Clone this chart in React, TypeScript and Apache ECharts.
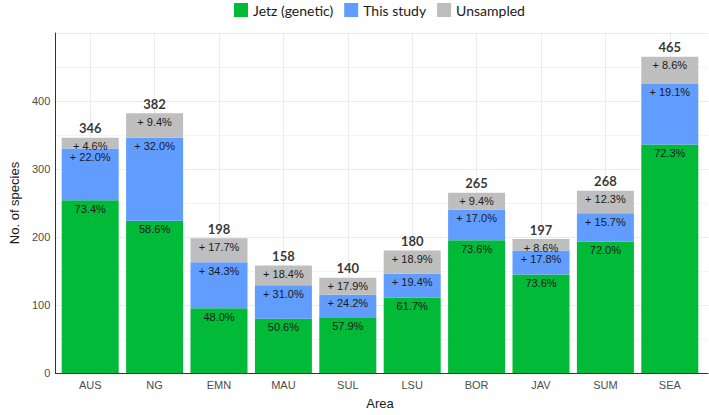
import React, { useEffect, useRef } from "react";
import * as echarts from "echarts";

// Species counts per area, split into Jetz (genetic), this study and unsampled shares
const categories = ["AUS", "NG", "EMN", "MAU", "SUL", "LSU", "BOR", "JAV", "SUM", "SEA"];
const totals = [346, 382, 198, 158, 140, 180, 265, 197, 268, 465];
const pctJetz = [73.4, 58.6, 48.0, 50.6, 57.9, 61.7, 73.6, 73.6, 72.0, 72.3];
const pctStudy = [22.0, 32.0, 34.3, 31.0, 24.2, 19.4, 17.0, 17.8, 15.7, 19.1];
const pctUnsampled = [4.6, 9.4, 17.7, 18.4, 17.9, 18.9, 9.4, 8.6, 12.3, 8.6];
const yTicks = [0, 100, 200, 300, 400];

const GREEN = "#00BA38";
const BLUE = "#619CFF";
const GREY = "#BEBEBE";
const SANS = "'Liberation Sans', Arial, sans-serif";
const LEGEND_FONT = "Lato, 'Open Sans', sans-serif";

const countsFrom = (pcts: number[]) => pcts.map((p, i) => (totals[i] * p) / 100);

export default function App() {
  const ref = useRef<HTMLDivElement>(null);

  useEffect(() => {
    if (!ref.current) return;
    document.body.style.margin = "0";
    const chart = echarts.init(ref.current, null, { renderer: "svg" });

    const segLabel = (pcts: number[], plus: boolean) => ({
      show: true,
      position: "insideTop" as const,
      distance: 3,
      fontFamily: SANS,
      fontSize: 11,
      color: "#1a1a1a",
      formatter: (p: any) => (plus ? "+ " : "") + pcts[p.dataIndex].toFixed(1) + "%",
    });

    const barBase = {
      type: "bar",
      stack: "total",
      xAxisIndex: 1,
      yAxisIndex: 1,
      barWidth: 57,
      z: 3,
    };

    chart.setOption({
      animation: false,
      backgroundColor: "#ffffff",
      legend: {
        top: 3,
        left: 234,
        padding: 0,
        itemWidth: 14,
        itemHeight: 14,
        itemGap: 11,
        icon: "rect",
        data: ["Jetz (genetic)", "This study", "Unsampled"],
        textStyle: { fontFamily: LEGEND_FONT, fontSize: 14, color: "#1a1a1a" },
      },
      grid: [
        { left: 52, right: 1, top: 33, bottom: 42 },
        { left: 58, right: 7, top: 33, bottom: 42 },
      ],
      xAxis: [
        {
          gridIndex: 0,
          type: "value",
          min: 0,
          max: 1,
          axisLine: { show: true, lineStyle: { color: "#333", width: 1 } },
          axisTick: { show: false },
          axisLabel: { show: false },
          splitLine: { show: false },
        },
        {
          gridIndex: 1,
          type: "category",
          data: categories,
          name: "Area",
          nameLocation: "middle",
          nameGap: 24,
          nameTextStyle: { fontFamily: SANS, fontSize: 13, color: "#1a1a1a" },
          axisLine: { show: false },
          axisTick: { show: false },
          axisLabel: { fontFamily: SANS, fontSize: 11, color: "#4d4d4d", margin: 6 },
          splitLine: { show: false },
        },
      ],
      yAxis: [
        {
          gridIndex: 0,
          type: "value",
          min: 0,
          max: 500,
          interval: 100,
          name: "No. of species",
          nameLocation: "middle",
          nameGap: 26,
          nameTextStyle: { fontFamily: SANS, fontSize: 13, color: "#1a1a1a" },
          axisLine: { show: true, lineStyle: { color: "#333", width: 1 } },
          axisTick: { show: false },
          axisLabel: {
            fontFamily: SANS,
            fontSize: 11,
            color: "#4d4d4d",
            margin: 5,
            formatter: (v: number) => (yTicks.includes(v) ? String(v) : ""),
          },
          splitLine: { show: true, lineStyle: { color: "#EBEBEB", width: 1 } },
          minorTick: { show: false, splitNumber: 2 },
          minorSplitLine: { show: true, lineStyle: { color: "#F4F4F4", width: 1 } },
        },
        {
          gridIndex: 1,
          type: "value",
          min: 0,
          max: 500,
          show: false,
        },
      ],
      series: [
        {
          // vertical grid lines at category centres, kept behind the bars
          type: "line",
          xAxisIndex: 1,
          yAxisIndex: 1,
          data: categories.map(() => null),
          symbol: "none",
          silent: true,
          z: 0,
          markLine: {
            silent: true,
            z: 0,
            symbol: ["none", "none"],
            label: { show: false },
            lineStyle: { color: "#EBEBEB", width: 1, type: "solid" },
            data: categories.map((c) => ({ xAxis: c })),
          },
        },
        {
          ...barBase,
          name: "Jetz (genetic)",
          itemStyle: { color: GREEN },
          label: segLabel(pctJetz, false),
          data: countsFrom(pctJetz),
        },
        {
          ...barBase,
          name: "This study",
          itemStyle: { color: BLUE },
          label: segLabel(pctStudy, true),
          data: countsFrom(pctStudy),
        },
        {
          ...barBase,
          name: "Unsampled",
          itemStyle: { color: GREY },
          label: segLabel(pctUnsampled, true),
          data: countsFrom(pctUnsampled),
        },
        {
          // totals above each stacked bar
          type: "scatter",
          xAxisIndex: 1,
          yAxisIndex: 1,
          symbolSize: 0,
          silent: true,
          z: 5,
          label: {
            show: true,
            position: "top",
            distance: 3,
            fontFamily: LEGEND_FONT,
            fontWeight: "bold",
            fontSize: 13,
            color: "#000",
            formatter: (p: any) => String(totals[p.dataIndex]),
          },
          data: totals,
        },
      ],
    });

    return () => chart.dispose();
  }, []);

  return (
    <div
      ref={ref}
      style={{ position: "absolute", left: 0, top: 0, width: 709, height: 415 }}
    />
  );
}
